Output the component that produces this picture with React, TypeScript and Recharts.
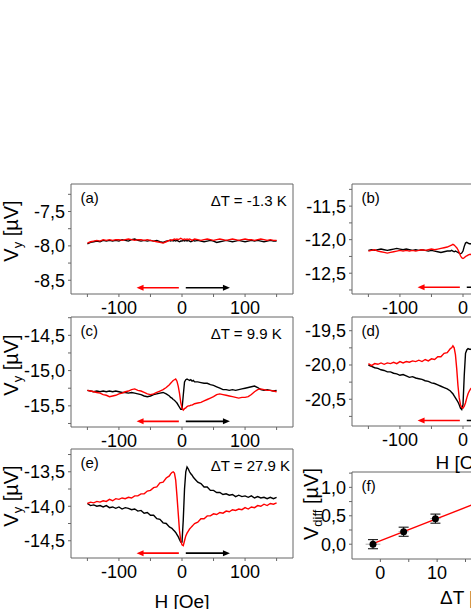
import React from 'react';
import { LineChart, Line, XAxis, YAxis, ReferenceLine, ComposedChart, Scatter, ErrorBar } from 'recharts';

// field sweep grid (Oe), finer near zero
const fieldOe = [
  -150, -145, -140, -135, -130, -125, -120, -115, -110, -105, -100, -95, -90, -85, -80, -75, -70, -65, -60, -55, -50, -45, -40, -35, -30, -25, -20,
  -18, -16, -14, -12, -10, -8, -6, -4, -2, 0, 2, 4, 6, 8, 10, 12, 14, 16, 18,
  20, 25, 30, 35, 40, 45, 50, 55, 60, 65, 70, 75, 80, 85, 90, 95, 100, 105, 110, 115, 120, 125, 130, 135, 140, 145, 150,
];
const fieldTicks = [-150, -100, -50, 0, 50, 100, 150];
const fieldLabels = [-100, 0, 100];

// (a) dT = -1.3 K
const aBlack = [
  -7.97, -7.95, -7.94, -7.93, -7.94, -7.92, -7.93, -7.92, -7.93, -7.92, -7.93, -7.91, -7.92, -7.93, -7.91, -7.9, -7.92, -7.93, -7.92, -7.93, -7.92, -7.93, -7.92, -7.94, -7.95, -7.93, -7.92,
  -7.93, -7.92, -7.93, -7.92, -7.93, -7.92, -7.93, -7.94, -7.93, -7.93, -7.92, -7.93, -7.92, -7.93, -7.92, -7.93, -7.94, -7.93, -7.92,
  -7.93, -7.92, -7.93, -7.94, -7.93, -7.92, -7.93, -7.95, -7.94, -7.93, -7.92, -7.93, -7.94, -7.93, -7.92, -7.93, -7.94, -7.93, -7.92, -7.93, -7.92, -7.93, -7.94, -7.93, -7.92, -7.93, -7.93,
];
const aRed = [
  -7.96, -7.94, -7.93, -7.92, -7.93, -7.91, -7.92, -7.91, -7.92, -7.91, -7.91, -7.92, -7.91, -7.9, -7.91, -7.92, -7.91, -7.91, -7.92, -7.91, -7.92, -7.93, -7.94, -7.95, -7.96, -7.94, -7.92,
  -7.91, -7.92, -7.91, -7.9, -7.91, -7.9, -7.91, -7.9, -7.89, -7.9, -7.91, -7.9, -7.91, -7.9, -7.91, -7.9, -7.91, -7.92, -7.91,
  -7.9, -7.91, -7.92, -7.91, -7.9, -7.91, -7.92, -7.91, -7.9, -7.91, -7.92, -7.91, -7.9, -7.91, -7.92, -7.91, -7.9, -7.91, -7.91, -7.92, -7.91, -7.9, -7.91, -7.92, -7.91, -7.92, -7.92,
];

// (b)
const bBlack = [
  -12.16, -12.15, -12.16, -12.15, -12.14, -12.15, -12.16, -12.15, -12.14, -12.13, -12.14, -12.15, -12.14, -12.15, -12.16, -12.15, -12.16, -12.15, -12.16, -12.17, -12.16, -12.17, -12.18, -12.19, -12.18, -12.17, -12.17,
  -12.16, -12.17, -12.18, -12.17, -12.18, -12.19, -12.2, -12.21, -12.2, -12.17, -12.1, -12.05, -12.04, -12.05, -12.06, -12.06, -12.07, -12.08, -12.08,
  -12.09, -12.1, -12.11, -12.12, -12.13, -12.13, -12.14, -12.15, -12.15, -12.16, -12.15, -12.16, -12.15, -12.16, -12.17, -12.16, -12.15, -12.16, -12.17, -12.16, -12.15, -12.16, -12.17, -12.16, -12.15, -12.16, -12.16,
];
const bRed = [
  -12.17, -12.16, -12.15, -12.17, -12.18, -12.19, -12.2, -12.19, -12.18, -12.17, -12.16, -12.17, -12.16, -12.17, -12.16, -12.17, -12.16, -12.15, -12.16, -12.15, -12.14, -12.15, -12.14, -12.13, -12.12, -12.11, -12.09,
  -12.08, -12.07, -12.08, -12.1, -12.12, -12.15, -12.19, -12.24, -12.27, -12.28, -12.27, -12.25, -12.24, -12.23, -12.22, -12.22, -12.21, -12.21, -12.2,
  -12.2, -12.19, -12.19, -12.18, -12.18, -12.17, -12.18, -12.17, -12.16, -12.17, -12.16, -12.17, -12.16, -12.15, -12.16, -12.17, -12.16, -12.15, -12.16, -12.17, -12.16, -12.15, -12.16, -12.17, -12.16, -12.16, -12.17,
];

// (c) dT = 9.9 K
const cBlack = [
  -15.28, -15.29, -15.3, -15.29, -15.3, -15.29, -15.3, -15.29, -15.3, -15.29, -15.3, -15.31, -15.31, -15.32, -15.31, -15.32, -15.33, -15.34, -15.36, -15.37, -15.36, -15.34, -15.33, -15.32, -15.31, -15.33, -15.36,
  -15.38, -15.39, -15.41, -15.42, -15.44, -15.46, -15.49, -15.52, -15.55, -15.55, -15.35, -15.16, -15.13, -15.12, -15.13, -15.14, -15.13, -15.15, -15.14,
  -15.16, -15.16, -15.17, -15.18, -15.18, -15.2, -15.21, -15.23, -15.25, -15.27, -15.27, -15.28, -15.27, -15.28, -15.27, -15.26, -15.25, -15.24, -15.23, -15.22, -15.24, -15.27, -15.28, -15.27, -15.28, -15.29, -15.28,
];
const cRed = [
  -15.28, -15.29, -15.3, -15.31, -15.32, -15.34, -15.35, -15.37, -15.36, -15.35, -15.33, -15.32, -15.3, -15.29, -15.27, -15.26, -15.28, -15.29, -15.31, -15.33, -15.34, -15.33, -15.31, -15.29, -15.27, -15.24, -15.2,
  -15.18, -15.16, -15.14, -15.13, -15.12, -15.15, -15.22, -15.32, -15.45, -15.53, -15.56, -15.54, -15.53, -15.51, -15.5, -15.5, -15.49, -15.49, -15.48,
  -15.47, -15.46, -15.45, -15.43, -15.41, -15.39, -15.37, -15.34, -15.33, -15.34, -15.35, -15.36, -15.37, -15.38, -15.39, -15.38, -15.38, -15.37, -15.34, -15.3, -15.27, -15.26, -15.27, -15.28, -15.28, -15.29, -15.3,
];

// (d)
const dBlack = [
  -20.0, -20.02, -20.04, -20.05, -20.07, -20.08, -20.1, -20.1, -20.12, -20.13, -20.15, -20.14, -20.16, -20.18, -20.17, -20.19, -20.2, -20.21, -20.23, -20.24, -20.26, -20.27, -20.29, -20.31, -20.33, -20.35, -20.38,
  -20.4, -20.42, -20.45, -20.48, -20.51, -20.54, -20.58, -20.63, -20.65, -20.58, -20.15, -19.83, -19.78, -19.76, -19.77, -19.77, -19.78, -19.79, -19.8,
  -19.81, -19.82, -19.84, -19.85, -19.86, -19.88, -19.89, -19.9, -19.91, -19.92, -19.93, -19.94, -19.94, -19.95, -19.96, -19.96, -19.97, -19.97, -19.98, -19.98, -19.99, -19.99, -20.0, -20.0, -20.0, -20.01, -20.0,
];
const dRed = [
  -19.98, -20.01, -19.98, -19.99, -19.97, -19.99, -19.97, -19.98, -19.96, -19.98, -19.95, -19.97, -19.95, -19.96, -19.94, -19.95, -19.93, -19.95, -19.92, -19.94, -19.91, -19.92, -19.88, -19.88, -19.83, -19.82, -19.76,
  -19.75, -19.72, -19.75, -19.85, -20.05, -20.3, -20.48, -20.58, -20.62, -20.63, -20.6, -20.55, -20.48, -20.42, -20.38, -20.35, -20.33, -20.31, -20.3,
  -20.29, -20.27, -20.25, -20.24, -20.22, -20.21, -20.19, -20.18, -20.17, -20.15, -20.14, -20.13, -20.12, -20.11, -20.1, -20.09, -20.08, -20.07, -20.06, -20.05, -20.04, -20.03, -20.02, -20.02, -20.01, -20.01, -20.0,
];

// (e) dT = 27.9 K
const eBlack = [
  -13.96, -13.99, -13.98, -14.0, -13.99, -14.01, -13.99, -14.02, -14.01, -14.03, -14.01, -14.04, -14.02, -14.03, -14.05, -14.04, -14.07, -14.06, -14.1, -14.09, -14.13, -14.13, -14.18, -14.19, -14.24, -14.25, -14.3,
  -14.31, -14.32, -14.34, -14.36, -14.38, -14.41, -14.44, -14.48, -14.52, -14.52, -14.2, -13.75, -13.5, -13.43, -13.46, -13.5, -13.53, -13.55, -13.58,
  -13.6, -13.65, -13.67, -13.72, -13.72, -13.77, -13.77, -13.8, -13.8, -13.83, -13.82, -13.84, -13.83, -13.86, -13.84, -13.86, -13.85, -13.87, -13.85, -13.88, -13.86, -13.88, -13.87, -13.89, -13.87, -13.89, -13.87,
];
const eRed = [
  -13.96, -13.94, -13.95, -13.93, -13.94, -13.92, -13.93, -13.9, -13.92, -13.89, -13.9, -13.88, -13.89, -13.87, -13.88, -13.85, -13.85, -13.82, -13.82, -13.78, -13.77, -13.73, -13.72, -13.66, -13.65, -13.59, -13.56,
  -13.53, -13.51, -13.5, -13.52, -13.62, -13.85, -14.1, -14.35, -14.5, -14.56, -14.57, -14.5, -14.43, -14.39, -14.36, -14.33, -14.31, -14.29, -14.27,
  -14.25, -14.23, -14.18, -14.18, -14.14, -14.14, -14.11, -14.12, -14.09, -14.1, -14.07, -14.08, -14.05, -14.06, -14.04, -14.05, -14.02, -14.04, -14.01, -14.02, -13.99, -14.0, -13.97, -13.99, -13.96, -13.97, -13.95,
];

// y ticks per panel (all ticks / labelled ticks)
const aTicks = [-7.25, -7.5, -7.75, -8, -8.25, -8.5];
const aLabels = [-7.5, -8, -8.5];
const bTicks = [-11.25, -11.5, -11.75, -12, -12.25, -12.5, -12.75];
const bLabels = [-11.5, -12, -12.5];
const cTicks = [-14.25, -14.5, -14.75, -15, -15.25, -15.5, -15.75];
const cLabels = [-14.5, -15, -15.5];
const dTicks = [-19.5, -19.75, -20, -20.25, -20.5, -20.75];
const dLabels = [-19.5, -20, -20.5];
const eTicks = [-13.25, -13.5, -13.75, -14, -14.25, -14.5];
const eLabels = [-13.5, -14, -14.5];

// sweep direction arrows (Oe)
const redArrowOe = [-5, -72];
const blackArrowOe = [6, 76];

// (f) V_diff vs dT
const diffT = [-1.3, 4.1, 9.7];
const diffV = [0.0, 0.22, 0.45];
const diffVErr = [0.08, 0.08, 0.08];
const diffTErr = [1.3, 0.9, 0.9];
const fitT = [-1.3, 27.9];
const fitV = [0.01, 1.15];
const fTicksX = [0, 5, 10, 15, 20, 25, 30];
const fLabelsX = [0, 10, 20, 30];
const fTicksY = [0, 0.25, 0.5, 0.75, 1, 1.25];
const fLabelsY = [0, 0.5, 1];

const AXIS = '#666';
const FONT = '"Liberation Sans", Arial, Helvetica, sans-serif';
const AX_L = 70;
const AX_R = 10;
const AX_T = 10;
const AX_B = 40;
const PLOT_W = 222;
const fieldDomain: [number, number] = [-176, 176];

const isIn = (list: number[], v: number) => list.some((l) => Math.abs(l - v) < 1e-6);
const commaFmt = (labels: number[]) => (v: number) => (isIn(labels, v) ? v.toFixed(1).replace('.', ',') : '');
const intFmt = (labels: number[]) => (v: number) => (isIn(labels, v) ? String(v) : '');

const arrowShape = (color: string) => (p: any) => {
  const { x1, y1, x2, y2 } = p;
  const dir = x2 > x1 ? 1 : -1;
  return (
    <g>
      <line x1={x1} y1={y1} x2={x2 - dir * 4} y2={y2} stroke={color} strokeWidth={1.6} />
      <path d={`M${x2},${y2} L${x2 - dir * 7},${y2 - 3} L${x2 - dir * 7},${y2 + 3} Z`} fill={color} />
    </g>
  );
};

type PanelProps = {
  left: number;
  top: number;
  height: number;
  black: number[];
  red: number[];
  yDomain: [number, number];
  yTicks: number[];
  yLabels: number[];
  arrowV: number;
};

function FieldPanel({ left, top, height, black, red, yDomain, yTicks, yLabels, arrowV }: PanelProps) {
  const rows = fieldOe.map((h, i) => ({ H: h, black: black[i], red: red[i] }));
  const tickFont = { fill: '#000', fontSize: 18 };
  return (
    <div style={{ position: 'absolute', left: left - AX_L, top: top - AX_T }}>
      <LineChart
        width={AX_L + PLOT_W + AX_R}
        height={AX_T + height + AX_B}
        data={rows}
        margin={{ top: 0, right: 0, bottom: 0, left: 0 }}
      >
        <XAxis xAxisId="b" dataKey="H" type="number" domain={fieldDomain} ticks={fieldTicks} interval={0}
          tickFormatter={intFmt(fieldLabels)} height={AX_B} stroke={AXIS} tickSize={3} tickMargin={4}
          tick={tickFont} allowDataOverflow />
        <XAxis xAxisId="t" orientation="top" dataKey="H" type="number" domain={fieldDomain} ticks={fieldTicks}
          interval={0} height={AX_T} stroke={AXIS} tickSize={3} tick={false} allowDataOverflow />
        <YAxis yAxisId="l" type="number" domain={yDomain} ticks={yTicks} interval={0} width={AX_L}
          tickFormatter={commaFmt(yLabels)} stroke={AXIS} tickSize={3} tickMargin={3} tick={tickFont} allowDataOverflow />
        <YAxis yAxisId="r" orientation="right" type="number" domain={yDomain} ticks={yTicks} interval={0}
          width={AX_R} stroke={AXIS} tickSize={3} tick={false} allowDataOverflow />
        <Line xAxisId="b" yAxisId="l" dataKey="black" stroke="#000" strokeWidth={1.4} dot={false} isAnimationActive={false} />
        <Line xAxisId="b" yAxisId="l" dataKey="red" stroke="#ff0000" strokeWidth={1.4} dot={false} isAnimationActive={false} />
        <ReferenceLine xAxisId="b" yAxisId="l"
          segment={[{ x: redArrowOe[0], y: arrowV }, { x: redArrowOe[1], y: arrowV }]}
          shape={arrowShape('#ff0000')} />
        <ReferenceLine xAxisId="b" yAxisId="l"
          segment={[{ x: blackArrowOe[0], y: arrowV }, { x: blackArrowOe[1], y: arrowV }]}
          shape={arrowShape('#000')} />
      </LineChart>
    </div>
  );
}

const panels = [
  { tag: '(a)', dT: 'ΔT = -1.3 K', left: 71, top: 184, height: 110, black: aBlack, red: aRed, yDomain: [-8.7, -7.1] as [number, number], yTicks: aTicks, yLabels: aLabels, arrowV: -8.61 },
  { tag: '(b)', dT: '', left: 352, top: 184, height: 110, black: bBlack, red: bRed, yDomain: [-12.81, -11.17] as [number, number], yTicks: bTicks, yLabels: bLabels, arrowV: -12.71 },
  { tag: '(c)', dT: 'ΔT = 9.9 K', left: 71, top: 317, height: 110, black: cBlack, red: cRed, yDomain: [-15.8, -14.24] as [number, number], yTicks: cTicks, yLabels: cLabels, arrowV: -15.72 },
  { tag: '(d)', dT: '', left: 352, top: 317, height: 109, black: dBlack, red: dRed, yDomain: [-20.89, -19.3] as [number, number], yTicks: dTicks, yLabels: dLabels, arrowV: -20.81 },
  { tag: '(e)', dT: 'ΔT = 27.9 K', left: 71, top: 449, height: 109, black: eBlack, red: eRed, yDomain: [-14.75, -13.17] as [number, number], yTicks: eTicks, yLabels: eLabels, arrowV: -14.68 },
];

function DiffPanel() {
  const rows = diffT.map((t, i) => ({ t, v: diffV[i], ey: diffVErr[i], ex: diffTErr[i] }));
  const fitRows = fitT.map((t, i) => ({ t, v: fitV[i] }));
  const tickFont = { fill: '#000', fontSize: 18 };
  const w = 227;
  const h = 87;
  const xDom: [number, number] = [-5, 35];
  const yDom: [number, number] = [-0.26, 1.27];
  return (
    <div style={{ position: 'absolute', left: 352 - AX_L, top: 472 - AX_T }}>
      <ComposedChart width={AX_L + w + AX_R} height={AX_T + h + AX_B} data={rows} margin={{ top: 0, right: 0, bottom: 0, left: 0 }}>
        <XAxis xAxisId="b" dataKey="t" type="number" domain={xDom} ticks={fTicksX} interval={0}
          tickFormatter={intFmt(fLabelsX)} height={AX_B} stroke={AXIS} tickSize={3} tickMargin={4} tick={tickFont} allowDataOverflow />
        <XAxis xAxisId="t" orientation="top" dataKey="t" type="number" domain={xDom} ticks={fTicksX} interval={0}
          height={AX_T} stroke={AXIS} tickSize={3} tick={false} allowDataOverflow />
        <YAxis yAxisId="l" type="number" domain={yDom} ticks={fTicksY} interval={0} width={AX_L}
          tickFormatter={commaFmt(fLabelsY)} stroke={AXIS} tickSize={3} tickMargin={3} tick={tickFont} allowDataOverflow />
        <YAxis yAxisId="r" orientation="right" type="number" domain={yDom} ticks={fTicksY} interval={0}
          width={AX_R} stroke={AXIS} tickSize={3} tick={false} allowDataOverflow />
        <Line xAxisId="b" yAxisId="l" data={fitRows} dataKey="v" stroke="#ff0000" strokeWidth={1.4} dot={false} isAnimationActive={false} />
        <Scatter xAxisId="b" yAxisId="l" dataKey="v" fill="#000" isAnimationActive={false}
          shape={(p: any) => <circle cx={p.cx} cy={p.cy} r={3.5} fill="#000" />}>
          <ErrorBar dataKey="ex" direction="x" width={0} stroke="#aaa" strokeWidth={1} />
          <ErrorBar dataKey="ey" direction="y" width={5} stroke="#000" strokeWidth={1} />
        </Scatter>
      </ComposedChart>
    </div>
  );
}

function YTitle({ x, y, sub }: { x: number; y: number; sub: string }) {
  return (
    <text x={x} y={y} transform={`rotate(-90 ${x} ${y})`} textAnchor="middle" fontSize={20} fill="#000">
      V<tspan fontSize={13} dy={4}>{sub}</tspan>
      <tspan dy={-4}> [µV]</tspan>
    </text>
  );
}

export default function App() {
  return (
    <div style={{ position: 'absolute', left: 0, top: 0, width: 471, height: 609, overflow: 'hidden', background: '#fff', fontFamily: FONT }}>
      {panels.map((p) => (
        <FieldPanel key={p.tag} {...p} />
      ))}
      <DiffPanel />
      <svg width={471} height={609} style={{ position: 'absolute', left: 0, top: 0, pointerEvents: 'none' }}>
        {panels.map((p) => (
          <text key={p.tag} x={p.left + 9.5} y={p.top + 19} fontSize={15} fill="#000">{p.tag}</text>
        ))}
        <text x={361.5} y={491} fontSize={15} fill="#000">(f)</text>
        {panels.filter((p) => p.dT).map((p) => (
          <text key={p.tag + 't'} x={p.left + 139.7} y={p.top + 22} fontSize={15} fill="#000">{p.dT}</text>
        ))}
        <YTitle x={18} y={231} sub="y" />
        <YTitle x={18} y={365} sub="y" />
        <YTitle x={18} y={496} sub="y" />
        <YTitle x={318} y={504} sub="diff" />
        <text x={182} y={608} textAnchor="middle" fontSize={19} fill="#000">H [Oe]</text>
        <text x={463} y={469} textAnchor="middle" fontSize={19} fill="#000">H [Oe]</text>
        <text x={440} y={604} fontSize={19} fill="#000">ΔT [K]</text>
      </svg>
    </div>
  );
}
